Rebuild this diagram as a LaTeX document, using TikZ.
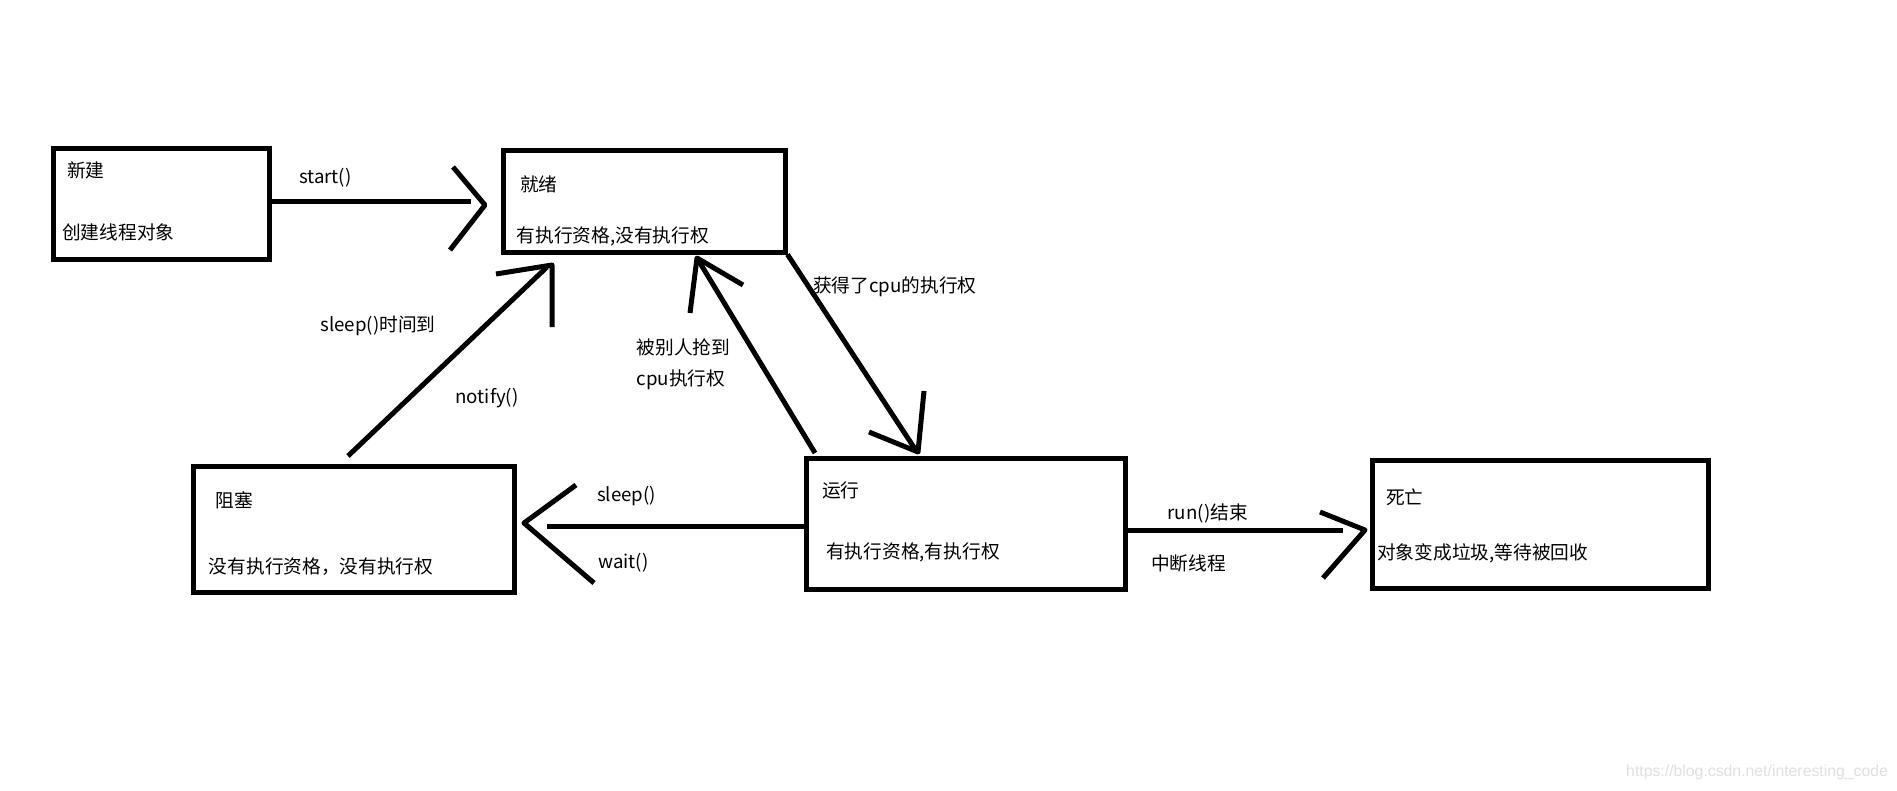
\documentclass[tikz,border=0pt]{standalone}
\usepackage{fontspec}
\setmainfont{Noto Sans CJK SC}
\newfontfamily\wmfont{Liberation Sans}
\begin{document}
\begin{tikzpicture}[x=1pt,y=-1pt,
  box/.style={draw, line width=5pt, rectangle, inner sep=0pt},
  lbl/.style={inner sep=0pt, anchor=west, font=\fontsize{18.7}{22}\selectfont},
  clbl/.style={inner sep=0pt, anchor=center, font=\fontsize{18.7}{22}\selectfont},
  conn/.style={line width=5pt},
  head/.style={line width=5pt, line join=round}]
\useasboundingbox (0,0) rectangle (1897,790);
\fill[white] (0,0) rectangle (1897,790);

% boxes
\node[box, minimum width=216pt, minimum height=111pt] (new) at (161.6,203.5) {};
\node[box, minimum width=282pt, minimum height=102pt] (ready) at (644,201) {};
\node[box, minimum width=321pt, minimum height=126pt] (blocked) at (353.5,529) {};
\node[box, minimum width=319pt, minimum height=131pt] (running) at (965.5,523.5) {};
\node[box, minimum width=336pt, minimum height=128pt] (dead) at (1540,524) {};

% box texts
\node[lbl] (newT) at (67,170) {新建};
\node[lbl] (newD) at (62,232) {创建线程对象};
\node[lbl] (readyT) at (520,184) {就绪};
\node[lbl] (readyD) at (516.5,236) {有执行资格,没有执行权};
\node[lbl] (blockedT) at (215.6,500) {阻塞};
\node[lbl] (blockedD) at (208.7,567) {没有执行资格，没有执行权};
\node[lbl] (runningT) at (822,490) {运行};
\node[lbl] (runningD) at (826,552) {有执行资格,有执行权};
\node[lbl] (deadT) at (1386,497) {死亡};
\node[lbl] (deadD) at (1377,553) {对象变成垃圾,等待被回收};

% edge labels
\node[lbl] (lStart) at (299,178) {start()};
\node[clbl] (lSleepTime) at (378,326) {sleep()时间到};
\node[clbl] (lNotify) at (487,398) {notify()};
\node[lbl] (lRob1) at (636.4,347) {被别人抢到};
\node[lbl] (lRob2) at (636.4,380) {cpu执行权};
\node[lbl] (lGet) at (813,287) {获得了cpu的执行权};
\node[lbl] (lSleep) at (597,496) {sleep()};
\node[lbl] (lWait) at (598,563) {wait()};
\node[lbl] (lRun) at (1167.5,513) {run()结束};
\node[lbl] (lInt) at (1151,563) {中断线程};

% coordinates
\coordinate (sA) at (471,201);
\coordinate (s1) at (453,167);
\coordinate (sT) at (485,205);
\coordinate (s2) at (450,250);

\coordinate (nB) at (348,456);
\coordinate (nA) at (547,267);
\coordinate (n1) at (496,274);
\coordinate (nT) at (552,265);
\coordinate (n2) at (552,327);

\coordinate (rB) at (815,453);
\coordinate (rT) at (697,258);
\coordinate (r1) at (690,313);
\coordinate (r2) at (743,285);

\coordinate (gA) at (915,449);
\coordinate (g1) at (869,432);
\coordinate (gT) at (918,452);
\coordinate (g2) at (924,391);

\coordinate (bA) at (547,526);
\coordinate (b1) at (576,485);
\coordinate (bT) at (524,523);
\coordinate (b2) at (594,583);

\coordinate (dA) at (1343,530);
\coordinate (d1) at (1320,512);
\coordinate (dT) at (1365,530);
\coordinate (d2) at (1323,578);

% connectors
\draw[conn] (new.east |- sA) -- (sA);
\draw[head] (s1) -- (sT) -- (s2);

\draw[conn] (nB) -- (nA);
\draw[head] (n1) -- (nT) -- (n2);

\draw[conn] (rB) -- (rT);
\draw[head] (r1) -- (rT) -- (r2);

\draw[conn] (ready.south east) -- (gA);
\draw[head] (g1) -- (gT) -- (g2);

\draw[conn] (running.west |- bA) -- (bA);
\draw[head] (b1) -- (bT) -- (b2);

\draw[conn] (running.east |- dA) -- (dA);
\draw[head] (d1) -- (dT) -- (d2);

% watermark
\node[inner sep=0pt, anchor=west, text=black!12, font=\wmfont\fontsize{15.8}{18}\selectfont] (wm) at (1626,772) {https://blog.csdn.net/interesting\_code};
\end{tikzpicture}
\end{document}
